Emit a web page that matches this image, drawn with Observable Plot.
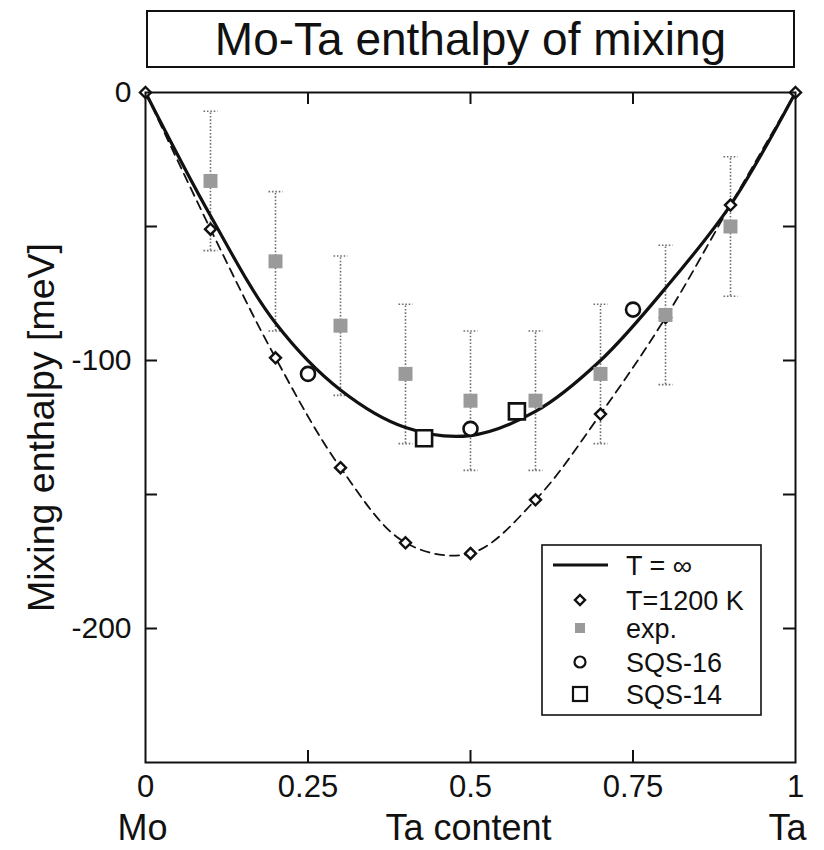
<!DOCTYPE html>
<html><head><meta charset="utf-8">
<script src="https://cdn.jsdelivr.net/npm/d3@7"></script>
<script src="https://cdn.jsdelivr.net/npm/@observablehq/plot@0.6"></script>
<style>
body{margin:0;background:#fff;font-family:"Liberation Sans",Arial,sans-serif;}
#wrap{position:relative;width:824px;height:850px;overflow:hidden;}
#title{position:absolute;left:146px;top:10px;width:645px;height:54px;border:2px solid #111;display:flex;align-items:center;justify-content:center;font-size:46px;color:#111;background:#fff;z-index:2;}
#chart{position:absolute;left:0;top:70px;}
#legend{position:absolute;left:0;top:0;pointer-events:none;}
</style></head><body>
<div id="wrap"><div id="title">Mo-Ta enthalpy of mixing</div><div id="chart"></div></div>
<script>
// ---- data ----
const xTicks = [0, 0.25, 0.5, 0.75, 1];
const xTickLabels = ["0", "0.25", "0.5", "0.75", "1"];
const xInnerTicks = [0.25, 0.5, 0.75];
const yTicks = [0, -100, -200];
const yInnerTicks = [-50, -100, -150, -200];
const endLabels = ["Mo", "Ta"];
const endX = [0, 1];
const xLabel = "Ta content";
const yLabel = "Mixing enthalpy [meV]";

const composition = [0, 0.1, 0.2, 0.3, 0.4, 0.5, 0.6, 0.7, 0.8, 0.9, 1];
const tInf  = [0, -46, -86, -111, -125, -128, -119, -100, -73, -42, 0];
const t1200 = [0, -51, -99, -140, -168, -172, -152, -120, -84, -42, 0];

const expX   = [0.1, 0.2, 0.3, 0.4, 0.5, 0.6, 0.7, 0.8, 0.9];
const expY   = [-33, -63, -87, -105, -115, -115, -105, -83, -50];
const expErr = [26, 26, 26, 26, 26, 26, 26, 26, 26];

const sqs16X = [0.25, 0.5, 0.75];
const sqs16Y = [-105, -125.5, -81];
const sqs14X = [0.4286, 0.5714];
const sqs14Y = [-129, -119];

const legendLabels = ["T = \u221e", "T=1200 K", "exp.", "SQS-16", "SQS-14"];

// ---- tables ----
const tInfData = composition.map((x, i) => ({x, y: tInf[i]}));
const t1200Data = composition.map((x, i) => ({x, y: t1200[i]}));
const expData = expX.map((x, i) => ({x, y: expY[i], e: expErr[i]}));
const sqs16Data = sqs16X.map((x, i) => ({x, y: sqs16Y[i]}));
const sqs14Data = sqs14X.map((x, i) => ({x, y: sqs14Y[i]}));

const diamond = {draw(ctx, size) { const r = Math.sqrt(size / Math.PI); ctx.moveTo(0, -r); ctx.lineTo(r, 0); ctx.lineTo(0, r); ctx.lineTo(-r, 0); ctx.closePath(); }};
const hcap = {draw(ctx, size) { const r = Math.sqrt(size / Math.PI); ctx.moveTo(-r, 0); ctx.lineTo(r, 0); }};
const sq = {draw(ctx, size) { const r = Math.sqrt(size / Math.PI); ctx.rect(-r, -r, 2 * r, 2 * r); }};

const W = 824, H = 780;
const mL = 145, mR = 29, mT = 22, mB = 88;
const fw = W - mL - mR, fh = H - mT - mB;
const errColor = "#707070";
const font = "'Liberation Sans', Arial, sans-serif";

const plot = Plot.plot({
  width: W, height: H,
  marginLeft: mL, marginRight: mR, marginTop: mT, marginBottom: mB,
  x: {domain: [0, 1]},
  y: {domain: [-250, 0]},
  style: {fontFamily: font, color: "#111", background: "transparent", overflow: "visible"},
  marks: [
    // error bars
    Plot.ruleX(expData, {x: "x", y1: d => d.y - d.e, y2: d => d.y + d.e, stroke: errColor, strokeWidth: 1.6, strokeDasharray: "1.6,1.8"}),
    Plot.dot(expData, {x: "x", y: d => d.y + d.e, symbol: hcap, r: 7, stroke: errColor, strokeWidth: 1.6, strokeDasharray: "1.6,1.8"}),
    Plot.dot(expData, {x: "x", y: d => d.y - d.e, symbol: hcap, r: 7, stroke: errColor, strokeWidth: 1.6, strokeDasharray: "1.6,1.8"}),
    // curves
    Plot.line(tInfData, {x: "x", y: "y", curve: "catmull-rom", stroke: "#111", strokeWidth: 3.2}),
    Plot.line(t1200Data, {x: "x", y: "y", curve: "catmull-rom", stroke: "#111", strokeWidth: 1.8, strokeDasharray: "9,6"}),
    Plot.dot(t1200Data, {x: "x", y: "y", symbol: diamond, r: 5.5, fill: "#fff", stroke: "#111", strokeWidth: 2.4}),
    // experiment
    Plot.dot(expData, {x: "x", y: "y", symbol: sq, r: 7, fill: "#9a9a9a", stroke: "none"}),
    // SQS
    Plot.dot(sqs16Data, {x: "x", y: "y", r: 7, fill: "#fff", stroke: "#111", strokeWidth: 2.6}),
    Plot.dot(sqs14Data, {x: "x", y: "y", symbol: sq, r: 8, fill: "#fff", stroke: "#111", strokeWidth: 2.6}),
    // frame and inner ticks
    Plot.frame({stroke: "#111", strokeWidth: 2}),
    Plot.tickX(xInnerTicks, {x: d => d, insetTop: fh - 12, stroke: "#111", strokeWidth: 2}),
    Plot.tickX(xInnerTicks, {x: d => d, insetBottom: fh - 12, stroke: "#111", strokeWidth: 2}),
    Plot.tickY(yInnerTicks, {y: d => d, insetRight: fw - 12, stroke: "#111", strokeWidth: 2}),
    Plot.tickY(yInnerTicks, {y: d => d, insetLeft: fw - 12, stroke: "#111", strokeWidth: 2}),
    // axes labels
    Plot.axisX({ticks: xTicks, tickSize: 0, tickPadding: 12, fontSize: 31, tickFormat: (d, i) => xTickLabels[i], label: null}),
    Plot.axisY({ticks: yTicks, tickSize: 0, tickPadding: 14, fontSize: 30, tickFormat: d => String(d), label: null}),
    Plot.text([endLabels[0]], {x: [endX[0]], text: d => d, frameAnchor: "bottom", lineAnchor: "top", dy: 52, dx: -3, fontSize: 36}),
    Plot.text([endLabels[1]], {x: [endX[1]], text: d => d, frameAnchor: "bottom", lineAnchor: "top", dy: 52, dx: -8, fontSize: 36}),
    Plot.text([xLabel], {text: d => d, frameAnchor: "bottom", lineAnchor: "top", dy: 52, dx: -2, fontSize: 36}),
    Plot.text([yLabel], {text: d => d, frameAnchor: "left", textAnchor: "middle", rotate: -90, dx: -104, fontSize: 37.5})
  ]
});
document.getElementById("chart").appendChild(plot);

// ---- legend overlay ----
const svg = d3.select("#wrap").append("svg").attr("id", "legend").attr("width", 824).attr("height", 850);
const lg = svg.append("g");
lg.append("rect").attr("x", 542).attr("y", 545).attr("width", 219).attr("height", 170)
  .attr("fill", "#fff").attr("stroke", "#111").attr("stroke-width", 1.6);
const rowY = [565, 600, 628, 662, 694];
const sx = 580;
lg.append("line").attr("x1", 553).attr("x2", 608).attr("y1", rowY[0]).attr("y2", rowY[0]).attr("stroke", "#111").attr("stroke-width", 3.2);
lg.append("path").attr("d", `M${sx},${rowY[1]-5}L${sx+5},${rowY[1]}L${sx},${rowY[1]+5}L${sx-5},${rowY[1]}Z`).attr("fill", "#fff").attr("stroke", "#111").attr("stroke-width", 2.4);
lg.append("rect").attr("x", sx - 5).attr("y", rowY[2] - 5).attr("width", 10).attr("height", 10).attr("fill", "#9a9a9a");
lg.append("circle").attr("cx", sx).attr("cy", rowY[3]).attr("r", 5.5).attr("fill", "#fff").attr("stroke", "#111").attr("stroke-width", 2.2);
lg.append("rect").attr("x", sx - 7).attr("y", rowY[4] - 7).attr("width", 14).attr("height", 14).attr("fill", "#fff").attr("stroke", "#111").attr("stroke-width", 2.2);
lg.selectAll("text.lbl").data(legendLabels).join("text").attr("class", "lbl")
  .attr("x", 626).attr("y", (d, i) => rowY[i]).attr("dy", "0.36em")
  .attr("font-size", 27).attr("fill", "#111").attr("font-family", font)
  .text(d => d);
</script>
</body></html>
